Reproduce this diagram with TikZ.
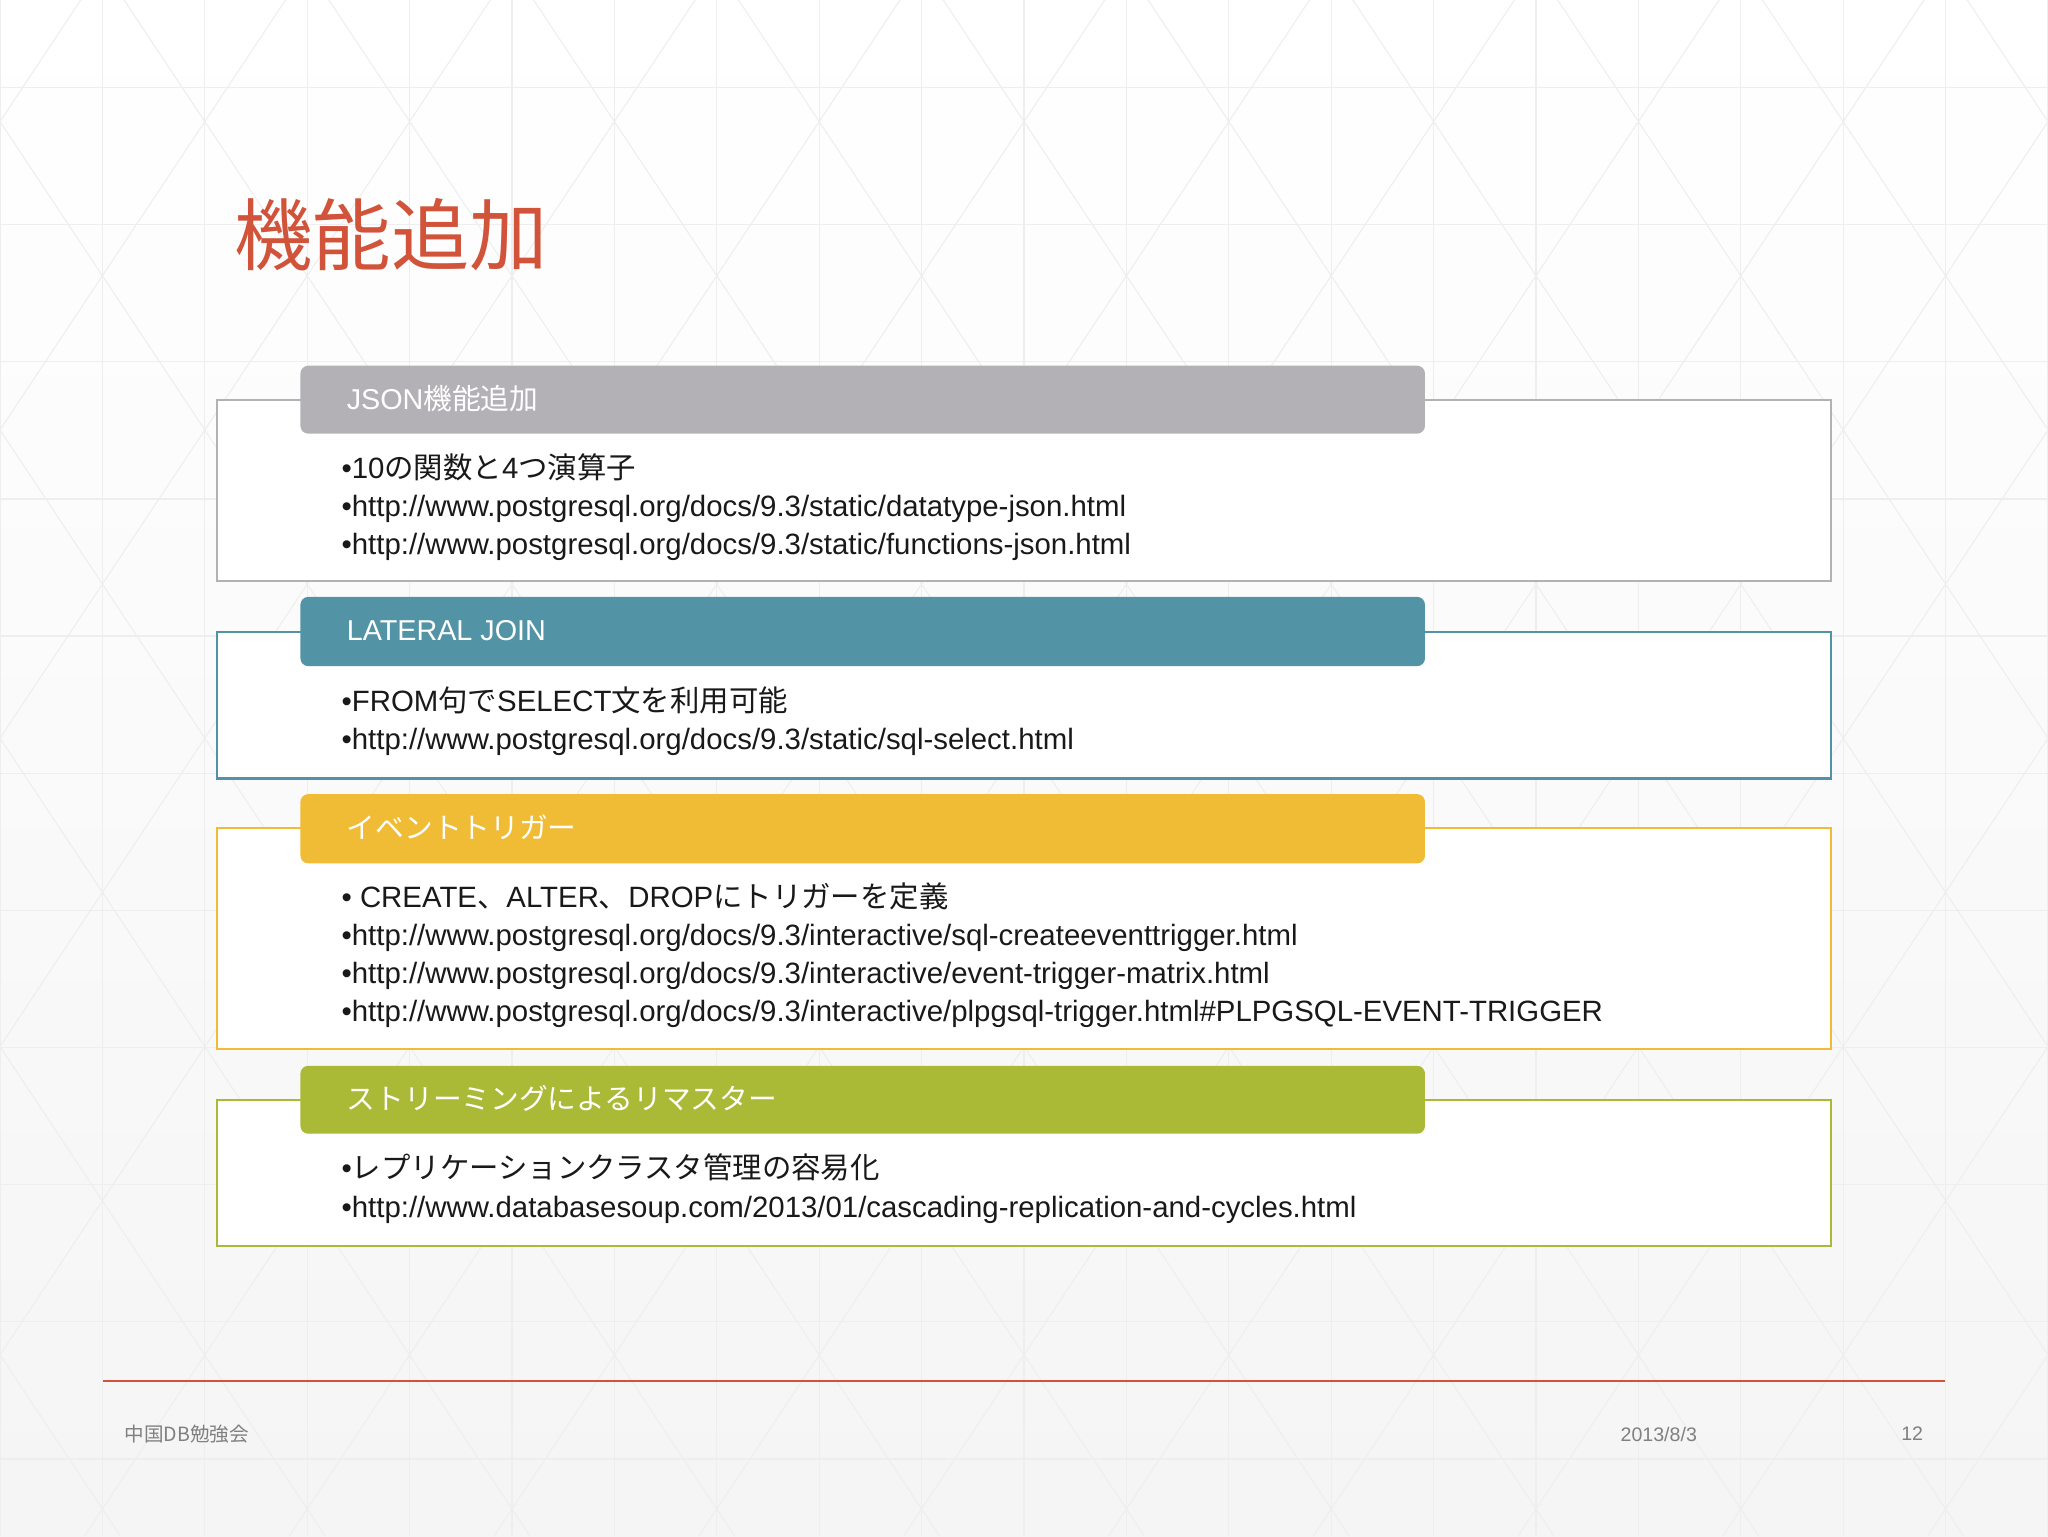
\documentclass[tikz,border=0pt]{standalone}
\usepackage{fontspec}
\setmainfont{Liberation Sans}
\newfontfamily\cjk{Noto Sans CJK JP}
\definecolor{ttl}{HTML}{D0533A}
\definecolor{cgray}{HTML}{B3B1B5}
\definecolor{cteal}{HTML}{5294A6}
\definecolor{cyel}{HTML}{F0BC35}
\definecolor{cgrn}{HTML}{ABBA36}
\definecolor{bgl}{HTML}{EEEEEE}
\begin{document}
\begin{tikzpicture}[x=1pt,y=-1pt,
  outer/.style={draw=#1,line width=1.6pt,fill=white},
  hdr/.style={fill=#1,rounded corners=6pt},
  htxt/.style={anchor=west,text=white,font=\fontsize{22}{26}\selectfont},
  btxt/.style={anchor=west,text=black!90,font=\fontsize{22.5}{26}\selectfont},
  foot/.style={text=black!50,font=\fontsize{15}{18}\selectfont}]
\useasboundingbox (0,0) rectangle (1568,1176);
\shade[top color=white,bottom color=black!4] (0,0) rectangle (1568,1176);
\begin{scope}
\clip (0,0) rectangle (1568,1176);
\foreach \i in {0,...,20} {\draw[bgl,line width=1pt] (\i*78.4,0) -- (\i*78.4,1176);}
\foreach \j in {0,...,11} {\draw[bgl,line width=1pt] (0,67+\j*105) -- (1568,67+\j*105);}
\foreach \i in {-16,...,20} {\draw[bgl,line width=0.8pt] (\i*156.8,-143) -- (\i*156.8+1176*0.745,1176);
  \draw[bgl,line width=0.8pt] (\i*156.8,-143) -- (\i*156.8-1176*0.745,1176);}
\end{scope}
\node[anchor=west,text=ttl,font=\cjk\fontsize{60}{64}\selectfont] (title) at (176,180) {機能追加};
% box 1
\draw[outer=cgray] (166,306) rectangle (1402,445);
\fill[hdr=cgray] (230,280) rectangle (1091,332);
\node[htxt] (h1) at (262,305) {JSON{\cjk 機能追加}};
\node[btxt] (a1) at (258,358) {•10{\cjk の関数と}4{\cjk つ演算子}};
\node[btxt] (a2) at (258,390) {•http://www.postgresql.org/docs/9.3/static/datatype-json.html};
\node[btxt] (a3) at (258,419) {•http://www.postgresql.org/docs/9.3/static/functions-json.html};
% box 2
\draw[outer=cteal] (166,484) rectangle (1402,596);
\fill[hdr=cteal] (230,457) rectangle (1091,510);
\node[htxt] (h2) at (262,483) {LATERAL JOIN};
\node[btxt] (b1) at (258,536) {•FROM{\cjk 句で}SELECT{\cjk 文を利用可能}};
\node[btxt] (b2) at (258,568) {•http://www.postgresql.org/docs/9.3/static/sql-select.html};
% box 3
\draw[outer=cyel] (166,634) rectangle (1402,803);
\fill[hdr=cyel] (230,608) rectangle (1091,661);
\node[htxt] (h3) at (262,633) {\cjk イベントトリガー};
\node[btxt] (c1) at (258,686) {• CREATE{\cjk 、}ALTER{\cjk 、}DROP{\cjk にトリガーを定義}};
\node[btxt] (c2) at (258,718) {•http://www.postgresql.org/docs/9.3/interactive/sql-createeventtrigger.html};
\node[btxt] (c3) at (258,747) {•http://www.postgresql.org/docs/9.3/interactive/event-trigger-matrix.html};
\node[btxt] (c4) at (258,776) {•http://www.postgresql.org/docs/9.3/interactive/plpgsql-trigger.html\#PLPGSQL-EVENT-TRIGGER};
% box 4
\draw[outer=cgrn] (166,842) rectangle (1402,954);
\fill[hdr=cgrn] (230,816) rectangle (1091,868);
\node[htxt] (h4) at (262,841) {\cjk ストリーミングによるリマスター};
\node[btxt] (d1) at (258,894) {•{\cjk レプリケーションクラスタ管理の容易化}};
\node[btxt] (d2) at (258,926) {•http://www.databasesoup.com/2013/01/cascading-replication-and-cycles.html};
% footer
\draw[ttl,line width=1.5pt] (79,1057) -- (1489,1057);
\node[foot,anchor=west] (f1) at (92,1098) {\cjk 中国DB勉強会};
\node[foot] (f2) at (1270,1098) {2013/8/3};
\node[foot] (f3) at (1464,1098) {12};
\end{tikzpicture}
\end{document}
